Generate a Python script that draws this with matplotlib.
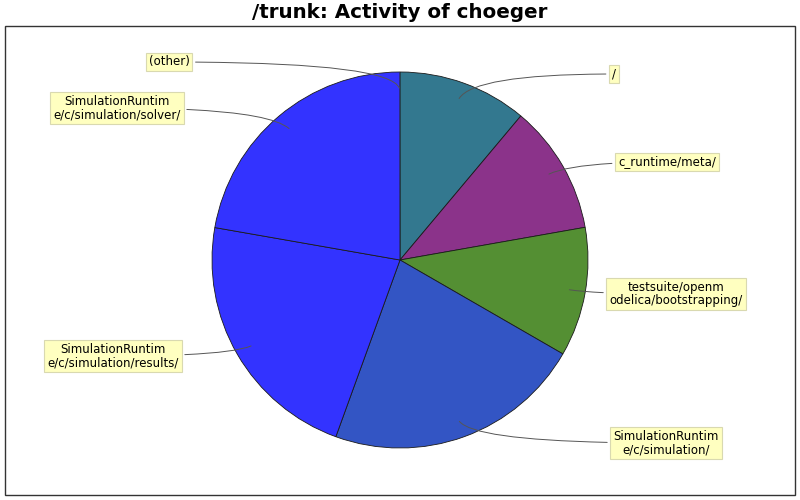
import numpy as np
import matplotlib.pyplot as plt
from matplotlib.patches import Rectangle

# slices, clockwise from 12 o'clock
labels = ['/', 'c_runtime/meta/', 'testsuite/openm\nodelica/bootstrapping/',
          'SimulationRuntim\ne/c/simulation/', 'SimulationRuntim\ne/c/simulation/results/',
          'SimulationRuntim\ne/c/simulation/solver/', '(other)']
values = [1, 1, 1, 2, 2, 2, 0.002]
colors = ['#33788f', '#8b338a', '#548f33', '#3355c4', '#3333ff', '#3333ff', '#3333ff']
# label box centres (pixels, y up)
label_x = [614, 667, 676, 666, 113, 117, 169]
label_y = [426, 338, 206, 57, 144, 392, 438]

cx, cy, R = 400, 240, 188

fig = plt.figure(figsize=(8, 5), dpi=100)
ax = fig.add_axes([0, 0, 1, 1])

wedges, _ = ax.pie(values, colors=colors, startangle=90, counterclock=False,
                   center=(cx, cy), radius=R,
                   wedgeprops=dict(edgecolor='#1a1a1a', linewidth=0.6))
wedges[-1].set_edgecolor('none')
ax.set_xlim(0, 800)
ax.set_ylim(0, 500)
ax.set_aspect('equal')
ax.axis('off')

# outer frame
ax.add_patch(Rectangle((5, 5), 790, 469, fill=False, edgecolor='#333333', linewidth=1))

for w, lab, lx, ly in zip(wedges, labels, label_x, label_y):
    mid = np.deg2rad((w.theta1 + w.theta2) / 2)
    ax_ = cx + 0.9 * R * np.cos(mid)
    ay_ = cy + 0.9 * R * np.sin(mid)
    ax.annotate(lab, xy=(ax_, ay_), xytext=(lx, ly), ha='center', va='center',
                fontsize=8.5, linespacing=1.05,
                bbox=dict(boxstyle='square,pad=0.25', fc='#ffffc0', ec='#d9d9b0', lw=0.8),
                arrowprops=dict(arrowstyle='-', color='#555555', lw=0.7,
                                connectionstyle='angle3,angleA=0,angleB=%.1f'
                                % np.rad2deg(mid)))

fig.text(0.5, 1 - 13 / 500, '/trunk: Activity of choeger', ha='center', va='center',
         fontsize=14.3, fontweight='bold')

fig.savefig('out.png', dpi=100)
